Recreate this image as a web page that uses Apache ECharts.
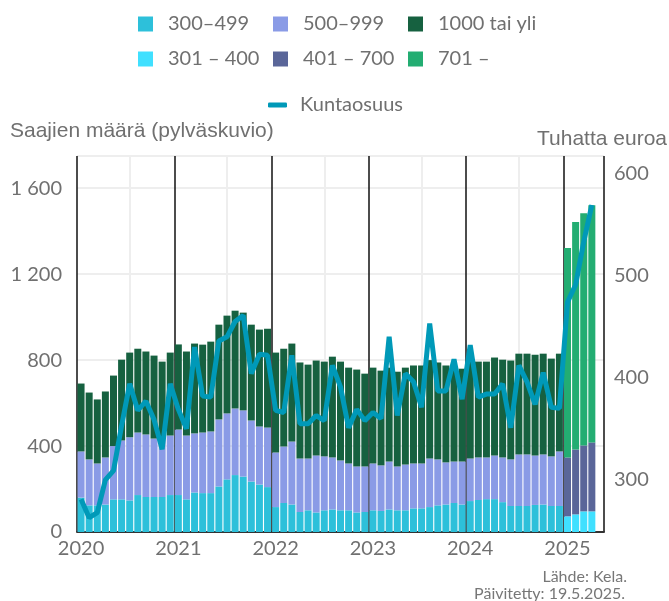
<!DOCTYPE html>
<html>
<head>
<meta charset="utf-8">
<script src="https://cdn.jsdelivr.net/npm/echarts@6/dist/echarts.min.js"></script>
<style>
  html, body { margin: 0; padding: 0; background: #fff; }
  #chart { width: 669px; height: 601px; }
</style>
</head>
<body>
<div id="chart"></div>
<script>
// kuukaudet 2020-01 ... 2025-05 (viimeinen tyhjä)
const months = []
for (let y = 2020; y <= 2025; y++) {
  for (let m = 1; m <= 12; m++) {
    if (y === 2025 && m > 5) break
    months.push(y + '-' + String(m).padStart(2, '0'))
  }
}

// vanha luokitus 2020-2024
const s300_499 = [
  160, 124, 124, 128, 152, 152, 147, 172, 163, 163, 163, 172,
  172, 152, 184, 181, 181, 212, 245, 265, 258, 235, 221, 209,
  116, 135, 128, 93, 101, 91, 101, 105, 101, 101, 91, 93,
  101, 98, 105, 101, 101, 110, 110, 116, 124, 128, 135, 128,
  144, 149, 153, 153, 139, 121, 121, 121, 126, 128, 121, 121
]
const s500_999 = [
  215, 214, 195, 219, 248, 274, 294, 291, 291, 272, 272, 277,
  305, 297, 275, 282, 287, 312, 307, 310, 308, 284, 270, 277,
  254, 263, 293, 249, 241, 265, 251, 242, 232, 218, 214, 212,
  218, 212, 223, 204, 213, 209, 209, 226, 214, 196, 193, 200,
  198, 198, 194, 203, 208, 217, 240, 240, 230, 233, 231, 254
]
const s1000 = [
  316, 311, 298, 307, 328, 376, 394, 390, 386, 386, 358, 386,
  396, 391, 418, 409, 418, 441, 455, 455, 455, 446, 451, 460,
  465, 455, 456, 447, 437, 442, 441, 469, 460, 446, 451, 432,
  446, 441, 437, 441, 451, 456, 456, 458, 451, 451, 432, 432,
  451, 446, 446, 456, 455, 460, 469, 469, 469, 469, 455, 455
]
// uusi luokitus 2025
const s301_400 = [73, 82, 96, 96]
const s401_700 = [274, 302, 307, 321]
const s701 = [975, 1059, 1081, 1104]

// kuntaosuus, tuhatta euroa
const kuntaosuus = [
  281, 263, 268, 300, 309, 353, 394, 368, 377, 359, 330, 394,
  369, 350, 430, 382, 381, 436, 440, 455, 461, 404, 423, 422,
  368, 366, 422, 355, 355, 363, 358, 412, 391, 351, 369, 358,
  366, 360, 440, 363, 404, 396, 371, 453, 387, 387, 418, 379,
  432, 381, 384, 384, 394, 351, 412, 396, 374, 405, 371, 370,
  474, 491, 533, 569
]

const leftTicks = [0, 400, 800, 1200, 1600]
const rightTicks = [300, 400, 500, 600]
const julyMonths = months.filter(m => m.endsWith('-07'))

const oldPart = arr => arr.concat([null, null, null, null, null])
const newPart = arr => new Array(60).fill(null).concat(arr, [null])

const textColor = '#707070'
const font = 'Lato'

const chart = echarts.init(document.getElementById('chart'))

const legendItem = (name, left, top, icon) => ({
  data: [name],
  left, top,
  icon: icon || 'rect',
  itemWidth: icon ? 19 : 15,
  itemHeight: icon ? 5 : 15,
  selectedMode: false,
  textStyle: { color: textColor, fontSize: 20, fontFamily: font, padding: [0, 0, 0, icon ? 8 : 10] }
})

const option = {
  animation: false,
  textStyle: { fontFamily: font },
  legend: [
    legendItem('300–499', 133, 9),
    legendItem('500–999', 268, 9),
    legendItem('1000 tai yli', 403, 9),
    legendItem('301 – 400', 133, 44),
    legendItem('401 – 700', 268, 44),
    legendItem('701 –', 403, 44),
    legendItem('Kuntaosuus', 263, 90, 'roundRect')
  ],
  grid: { left: 77, right: 65, top: 156, bottom: 69 },
  xAxis: {
    type: 'category',
    data: months,
    axisLine: { lineStyle: { color: '#333', width: 2 } },
    axisTick: { show: false },
    axisLabel: {
      interval: (i) => i % 12 === 0,
      formatter: v => v.slice(0, 4),
      color: textColor, fontSize: 20, fontFamily: font, margin: 7
    },
    splitLine: {
      show: true,
      interval: (i) => i % 12 === 0,
      lineStyle: { color: '#111', width: 1.5 }
    }
  },
  yAxis: [
    {
      type: 'value',
      min: 0, max: 1750,
      interval: 400,
      axisLine: { show: false },
      axisTick: { show: false },
      axisLabel: {
        customValues: leftTicks,
        formatter: v => String(v).replace(/\B(?=(\d{3})+(?!\d))/g, ' '),
        color: textColor, fontSize: 20, fontFamily: font, margin: 15
      },
      splitLine: { lineStyle: { color: '#eeeeee', width: 2 } }
    },
    {
      type: 'value',
      min: 249, max: 617,
      axisLine: { show: false },
      axisTick: { show: false },
      axisLabel: {
        customValues: rightTicks,
        color: textColor, fontSize: 20, fontFamily: font, margin: 10
      },
      splitLine: { show: false }
    }
  ],
  graphic: [
    { type: 'text', left: 10, top: 121, style: { text: 'Saajien määrä (pylväskuvio)', fill: textColor, font: '21px "Liberation Sans"' } },
    { type: 'text', right: 2, top: 129, style: { text: 'Tuhatta euroa', fill: textColor, font: '21px "Liberation Sans"' } },
    { type: 'text', right: 42, top: 569, style: { text: 'Lähde: Kela.', fill: '#777', font: '16px Lato', align: 'right' } },
    { type: 'text', right: 44, top: 586, style: { text: 'Päivitetty: 19.5.2025.', fill: '#777', font: '16px Lato', align: 'right' } }
  ],
  series: [
    {
      name: '300–499', type: 'bar', stack: 'a', barWidth: 7,
      data: oldPart(s300_499), itemStyle: { color: '#2dc0da' },
      markLine: {
        silent: true, z: 1, symbol: 'none', label: { show: false },
        lineStyle: { color: '#eeeeee', width: 2, type: 'solid' },
        data: julyMonths.map(m => ({ xAxis: m }))
      }
    },
    { name: '500–999', type: 'bar', stack: 'a', barWidth: 7, data: oldPart(s500_999), itemStyle: { color: '#8a9be6' } },
    { name: '1000 tai yli', type: 'bar', stack: 'a', barWidth: 7, data: oldPart(s1000), itemStyle: { color: '#166140' } },
    { name: '301 – 400', type: 'bar', stack: 'a', barWidth: 7, data: newPart(s301_400), itemStyle: { color: '#40e0ff' } },
    { name: '401 – 700', type: 'bar', stack: 'a', barWidth: 7, data: newPart(s401_700), itemStyle: { color: '#5a6699' } },
    { name: '701 –', type: 'bar', stack: 'a', barWidth: 7, data: newPart(s701), itemStyle: { color: '#23ad72' } },
    {
      name: 'Kuntaosuus', type: 'line', yAxisIndex: 1,
      data: kuntaosuus, showSymbol: false, symbol: 'none',
      lineStyle: { color: '#0099b8', width: 5 }, itemStyle: { color: '#0099b8' },
      z: 5
    }
  ]
}

chart.setOption(option)
</script>
</body>
</html>
